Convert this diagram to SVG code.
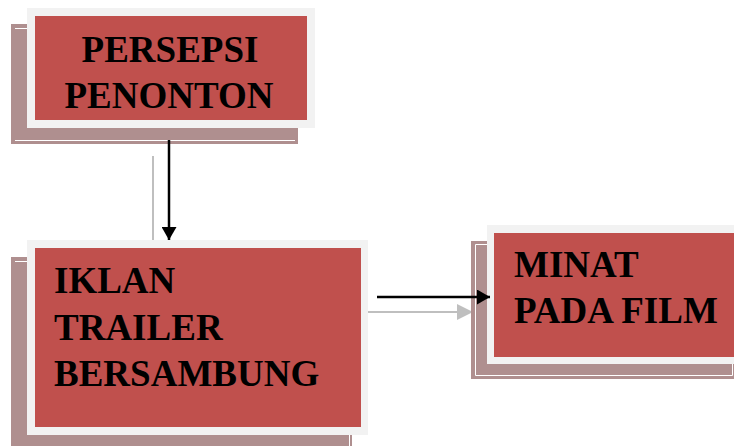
<svg xmlns="http://www.w3.org/2000/svg" width="734" height="446" viewBox="0 0 734 446">
<style>
.shadow{fill:#AF8F8F}
.inner{fill:none;stroke:#FFFFFF;stroke-width:1}
.frame{fill:#F2F2F2}
.box{fill:#C0504D}
.t{font-family:"Liberation Serif","Times New Roman",serif;font-weight:bold;font-size:37px;fill:#000}
.blk{stroke:#000;stroke-width:2.5;fill:none}
.gry{stroke:#BFBFBF;stroke-width:2;fill:none}
</style>
<defs>
<marker id="ab" markerWidth="5.2" markerHeight="6" refX="5.2" refY="3" orient="auto" markerUnits="strokeWidth"><path d="M0,0 L5.2,3 L0,6 Z" fill="#000"/></marker>
<marker id="ag" markerWidth="8" markerHeight="8" refX="8" refY="4" orient="auto" markerUnits="strokeWidth"><path d="M0,0 L8,4 L0,8 Z" fill="#BFBFBF"/></marker>
</defs>
<rect width="734" height="446" fill="#FFFFFF"/>
<g id="connectors">
<line class="gry" x1="153" y1="156" x2="153" y2="241"/>
<line class="gry" x1="361" y1="312" x2="473" y2="312" marker-end="url(#ag)"/>
</g>
<g id="node-persepsi">
<rect class="shadow" x="11" y="24" width="287" height="120"/>
<path class="inner" d="M15 28.5 H295 M15 140.5 H295"/>
<rect class="frame" x="27" y="8" width="288" height="120"/>
<rect class="box" x="35" y="16" width="272" height="104"/>
<text class="t" x="170" y="62" text-anchor="middle">PERSEPSI</text>
<text class="t" x="169" y="108" text-anchor="middle">PENONTON</text>
</g>
<g id="node-iklan">
<rect class="shadow" x="11" y="257" width="341" height="189"/>
<path class="inner" d="M15 261.5 H349 M349.5 261 V446"/>
<rect class="frame" x="27" y="240" width="341" height="195"/>
<rect class="box" x="35" y="248" width="326" height="179"/>
<text class="t" x="54" y="293">IKLAN</text>
<text class="t" x="54" y="340">TRAILER</text>
<text class="t" x="54" y="386">BERSAMBUNG</text>
</g>
<g id="node-minat">
<rect class="shadow" x="471" y="241" width="263" height="138"/>
<path class="inner" d="M475.5 244.5 H732.5 V375.5 H475.5 Z"/>
<rect class="frame" x="487" y="225" width="247" height="139"/>
<rect class="box" x="494" y="233" width="240" height="124"/>
<text class="t" x="514" y="277">MINAT</text>
<text class="t" x="514" y="323">PADA FILM</text>
</g>
<g id="connectors-front">
<line class="blk" x1="169" y1="140" x2="169" y2="240" marker-end="url(#ab)"/>
<line class="blk" x1="377" y1="297" x2="490" y2="297" marker-end="url(#ab)"/>
</g>
</svg>
